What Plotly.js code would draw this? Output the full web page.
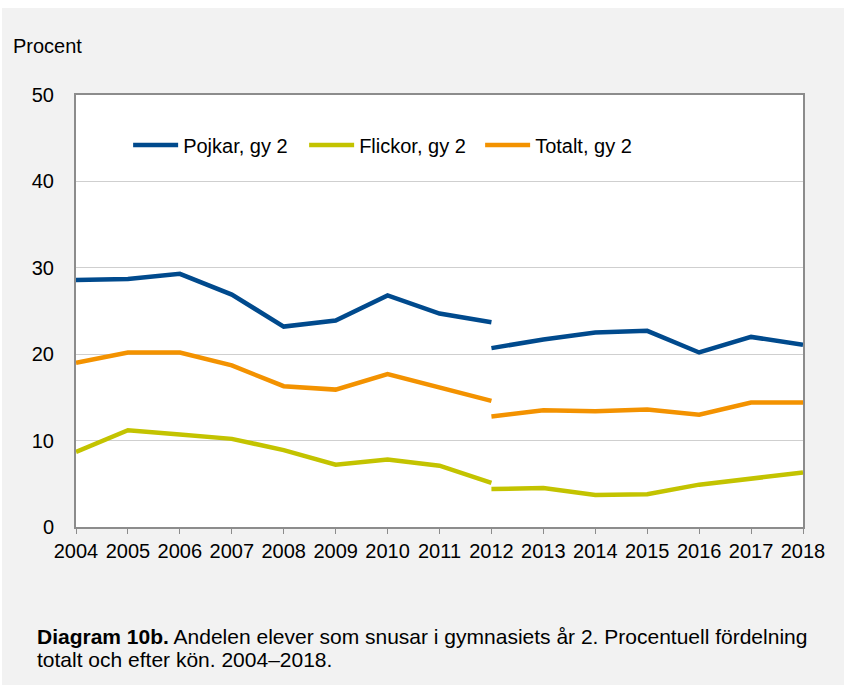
<!DOCTYPE html>
<html>
<head>
<meta charset="utf-8">
<script src="https://cdn.plot.ly/plotly-3.0.1.min.js"></script>
<style>
  html, body { margin: 0; padding: 0; background: #ffffff; }
  #chart { position: absolute; left: 2px; top: 8px; width: 842px; height: 677px; }
</style>
</head>
<body>
<div id="chart"></div>
<script>
// Period 1 (2004–2012) and period 2 (2012–2018): the series break in 2012
const years1 = [2004, 2005, 2006, 2007, 2008, 2009, 2010, 2011, 2012];
const years2 = [2012, 2013, 2014, 2015, 2016, 2017, 2018];

const pojkar1 = [28.6, 28.7, 29.3, 26.9, 23.2, 23.9, 26.8, 24.7, 23.7];
const pojkar2 = [20.7, 21.7, 22.5, 22.7, 20.2, 22.0, 21.1];

const flickor1 = [8.7, 11.2, 10.7, 10.2, 8.9, 7.2, 7.8, 7.1, 5.1];
const flickor2 = [4.4, 4.5, 3.7, 3.8, 4.9, 5.55, 6.3];

const totalt1 = [19.0, 20.2, 20.2, 18.7, 16.3, 15.9, 17.7, 16.2, 14.6];
const totalt2 = [12.8, 13.5, 13.4, 13.6, 13.0, 14.4, 14.4];

const seriesNames = ["Pojkar, gy 2", "Flickor, gy 2", "Totalt, gy 2"];
const tickYears = [2004, 2005, 2006, 2007, 2008, 2009, 2010, 2011, 2012, 2013, 2014, 2015, 2016, 2017, 2018];
const yTicks = [0, 10, 20, 30, 40, 50];
const yTitle = "Procent";
const captionLine1 = "<b>Diagram 10b.</b> Andelen elever som snusar i gymnasiets år 2. Procentuell fördelning";
const captionLine2 = "totalt och efter kön. 2004–2018.";

const colors = ["#004a8d", "#c3c300", "#f39200"];
const FONT = "Liberation Sans, Arial, sans-serif";

function seg(x, y, name, color, show) {
  return {
    x: x, y: y, name: name, type: "scatter", mode: "lines",
    line: { color: color, width: 4.5 },
    legendgroup: name, showlegend: show, hoverinfo: "x+y"
  };
}

const data = [
  seg(years1, pojkar1, seriesNames[0], colors[0], true),
  seg(years2, pojkar2, seriesNames[0], colors[0], false),
  seg(years1, flickor1, seriesNames[1], colors[1], true),
  seg(years2, flickor2, seriesNames[1], colors[1], false),
  seg(years1, totalt1, seriesNames[2], colors[2], true),
  seg(years2, totalt2, seriesNames[2], colors[2], false)
];

const PH = 432; // plot height in px (for paper-coordinate placement)

const layout = {
  width: 842, height: 677,
  margin: { l: 74, r: 41, t: 87, b: 158 },
  paper_bgcolor: "#f2f2f2",
  plot_bgcolor: "#ffffff",
  font: { family: FONT, size: 20, color: "#000000" },
  showlegend: true,
  legend: {
    orientation: "h",
    x: 0.0717, xanchor: "left",
    y: 0.884, yanchor: "middle",
    bgcolor: "rgba(0,0,0,0)",
    font: { family: FONT, size: 20, color: "#000000" },
    itemwidth: 45,
    entrywidth: 116, entrywidthmode: "pixels",
    traceorder: "normal"
  },
  xaxis: {
    range: [2004, 2018],
    tickmode: "array", tickvals: tickYears, ticktext: tickYears.map(String),
    ticks: "outside", ticklen: 5, tickcolor: "#8c8c8c", tickwidth: 1,
    showgrid: false, zeroline: false,
    showline: true, linecolor: "#8c8c8c", linewidth: 2, mirror: true,
    tickfont: { family: FONT, size: 20, color: "#000000" },
    fixedrange: true
  },
  yaxis: {
    range: [0, 50],
    tickmode: "array", tickvals: yTicks, ticktext: yTicks.map(String),
    ticks: "", ticklabelstandoff: 16,
    showgrid: true, gridcolor: "#cfcfcf", gridwidth: 1,
    zeroline: false,
    showline: true, linecolor: "#8c8c8c", linewidth: 2, mirror: true,
    tickfont: { family: FONT, size: 20, color: "#000000" },
    fixedrange: true
  },
  annotations: [
    {
      text: yTitle, xref: "paper", yref: "paper",
      x: -0.089, y: 1 + (87 - 38) / PH, xanchor: "left", yanchor: "middle",
      showarrow: false, font: { family: FONT, size: 20, color: "#000000" }
    },
    {
      text: captionLine1, xref: "paper", yref: "paper",
      x: -0.0564, y: (519 - 628) / PH, xanchor: "left", yanchor: "middle",
      align: "left", showarrow: false,
      font: { family: FONT, size: 21, color: "#000000" }
    },
    {
      text: captionLine2, xref: "paper", yref: "paper",
      x: -0.0564, y: (519 - 651) / PH, xanchor: "left", yanchor: "middle",
      align: "left", showarrow: false,
      font: { family: FONT, size: 21, color: "#000000" }
    }
  ]
};

Plotly.newPlot("chart", data, layout, { displayModeBar: false, staticPlot: true });
</script>
</body>
</html>
